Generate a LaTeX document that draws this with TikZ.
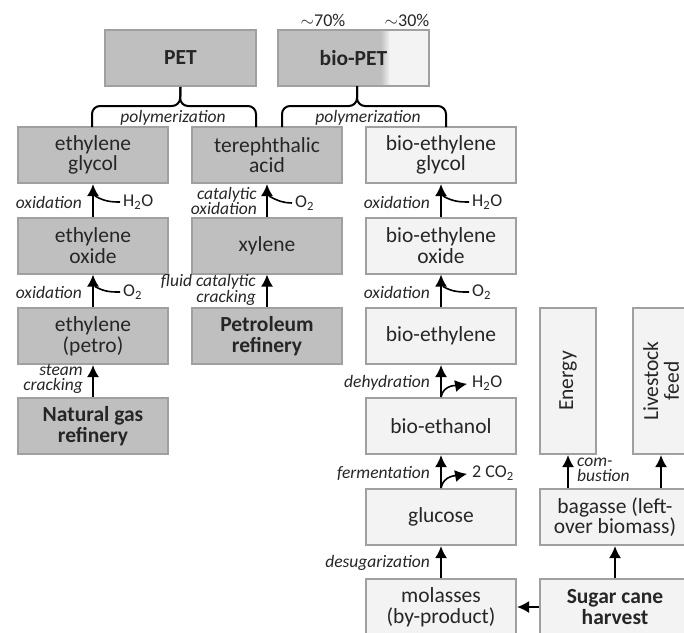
\documentclass[tikz,border=0pt]{standalone}
\usepackage{fontspec}
\setmainfont{Carlito}
\usetikzlibrary{arrows.meta,calc}
\definecolor{petgray}{RGB}{191,191,191}
\definecolor{biogray}{RGB}{243,243,243}
\definecolor{edgegray}{RGB}{160,160,160}
\definecolor{textgray}{RGB}{38,38,38}
\pgfdeclarehorizontalshading{biopetshade}{100bp}{color(0bp)=(petgray); color(59bp)=(petgray); color(62bp)=(biogray); color(100bp)=(biogray)}

\begin{document}
\begin{tikzpicture}[x=1pt,y=-1pt,
    box/.style={draw=edgegray, line width=2pt, minimum width=150pt, minimum height=56pt,
        inner sep=0pt, align=center, text=textgray, font=\fontsize{21.5}{20.7}\selectfont},
    petro/.style={box, fill=petgray},
    bio/.style={box, fill=biogray},
    flow/.style={line width=2pt, -{Latex[length=12pt,width=12pt]}},
    feed/.style={line width=1.6pt, shorten <=3pt},
    lbl/.style={font=\fontsize{17.5}{15.5}\selectfont\itshape, text=textgray, inner sep=0pt, align=right},
    chem/.style={font=\fontsize{18}{18}\selectfont, text=textgray, inner sep=0pt},
    brace/.style={line width=2pt, rounded corners=8pt}]
        \useasboundingbox (0,0) rectangle (684,632);

        % Products
        \node[petro, minimum width=151pt] (pet) at (180.5,58) {\bfseries PET};
        \node[box, shading=biopetshade, minimum width=151pt] (biopet) at (353.5,58) {\bfseries bio-PET};
        \node[chem] (share70) at (323,20) {$\sim$70\%};
        \node[chem] (share30) at (407,20) {$\sim$30\%};

        % Petro route
        \node[petro] (eg) at (93,155) {ethylene\\glycol};
        \node[petro] (eo) at (93,245.5) {ethylene\\oxide};
        \node[petro] (ep) at (93,336) {ethylene\\(petro)};
        \node[petro] (ngr) at (93,426) {\bfseries Natural gas\\\bfseries refinery};
        \node[petro] (ta) at (267,155) {terephthalic\\acid};
        \node[petro] (xy) at (267,245.5) {xylene};
        \node[petro] (pr) at (267,336) {\bfseries Petroleum\\\bfseries refinery};

        % Bio route
        \node[bio] (beg) at (441,155) {bio-ethylene\\glycol};
        \node[bio] (beo) at (441,245.5) {bio-ethylene\\oxide};
        \node[bio] (be) at (441,336) {bio-ethylene};
        \node[bio] (bet) at (441,426) {bio-ethanol};
        \node[bio] (glu) at (441,517) {glucose};
        \node[bio] (mol) at (441,607) {molasses\\(by-product)};
        \node[bio] (bag) at (615,517) {bagasse (left-\\over biomass)};
        \node[bio] (sug) at (615,607) {\bfseries Sugar cane\\\bfseries harvest};
        \node[bio, rotate=90, minimum width=146pt] (energy) at (568,381) {Energy};
        \node[bio, rotate=90, minimum width=146pt] (stock) at (661,381) {Livestock\\feed};

        % Braces
        \coordinate (b1l) at (92,127);
        \coordinate (b1r) at (256,127);
        \coordinate (b2l) at (282,127);
        \coordinate (b2r) at (446,127);
        \draw[brace] (b1l) -- (92,106) -- (180,106) -- (pet.south);
        \draw[brace] (b1r) -- (256,106) -- (180,106) -- (pet.south);
        \draw[brace] (b2l) -- (282,106) -- (357,106) -- (357,86);
        \draw[brace] (b2r) -- (446,106) -- (357,106) -- (357,86);
        \node[lbl] (poly1) at (173,118) {polymerization};
        \node[lbl] (poly2) at (368,118) {polymerization};

        % Main arrows
        \draw[flow] (eo) -- (eg);
        \draw[flow] (ep) -- (eo);
        \draw[flow] (ngr) -- (ep);
        \draw[flow] (xy) -- (ta);
        \draw[flow] (pr) -- (xy);
        \draw[flow] (beo) -- (beg);
        \draw[flow] (be) -- (beo);
        \draw[flow] (bet) -- (be);
        \draw[flow] (glu) -- (bet);
        \draw[flow] (mol) -- (glu);
        \draw[flow] (sug) -- (mol);
        \draw[flow] (sug) -- (bag);
        \draw[flow] (energy |- bag.north) -- (energy);
        \draw[flow] (stock |- bag.north) -- (stock);

        % Step labels
        \node[lbl, anchor=east] (ox1) at (82,202) {oxidation};
        \node[lbl, anchor=east] (ox2) at (82,292) {oxidation};
        \node[lbl, anchor=east] (steam) at (83,379) {steam\\cracking};
        \node[lbl, anchor=east] (catox) at (257,201) {catalytic\\oxidation};
        \node[lbl, anchor=east] (fcc) at (256,290) {fluid catalytic\\cracking};
        \node[lbl, anchor=east] (ox3) at (430,202) {oxidation};
        \node[lbl, anchor=east] (ox4) at (430,292) {oxidation};
        \node[lbl, anchor=east] (dehyd) at (430,383) {dehydration};
        \node[lbl, anchor=east] (ferm) at (430,473) {fermentation};
        \node[lbl, anchor=east] (desug) at (430,563) {desugarization};
        \node[lbl, anchor=west, align=left] (comb) at (577,470) {com-\\bustion};

        % Inputs and outputs
        \node[chem, anchor=west] (w1) at (123,202) {H\textsubscript{2}O};
        \node[chem, anchor=west] (o1) at (123,292) {O\textsubscript{2}};
        \node[chem, anchor=west] (o2) at (295,203) {O\textsubscript{2}};
        \node[chem, anchor=west] (w2) at (472,202) {H\textsubscript{2}O};
        \node[chem, anchor=west] (o3) at (472,292) {O\textsubscript{2}};
        \node[chem, anchor=west] (w3) at (472,383) {H\textsubscript{2}O};
        \node[chem, anchor=west] (co2) at (472,473) {2 CO\textsubscript{2}};
        \coordinate (in1) at ($(eg.south)+(2,12)$);
        \coordinate (in2) at ($(eo.south)+(2,12)$);
        \coordinate (in3) at ($(ta.south)+(2,12)$);
        \coordinate (in4) at ($(beg.south)+(2,12)$);
        \coordinate (in5) at ($(beo.south)+(2,12)$);
        \draw[feed] (w1.west) to[out=180,in=-30] (in1);
        \draw[feed] (o1.west) to[out=180,in=-30] (in2);
        \draw[feed] (o2.west) to[out=180,in=-30] (in3);
        \draw[feed] (w2.west) to[out=180,in=-30] (in4);
        \draw[feed] (o3.west) to[out=180,in=-30] (in5);
        \draw[flow, line width=1.6pt, shorten >=5pt] (bet.north) to[out=80,in=190] (w3.west);
        \draw[flow, line width=1.6pt, shorten >=5pt] (glu.north) to[out=80,in=190] (co2.west);
    \end{tikzpicture}
\end{document}
